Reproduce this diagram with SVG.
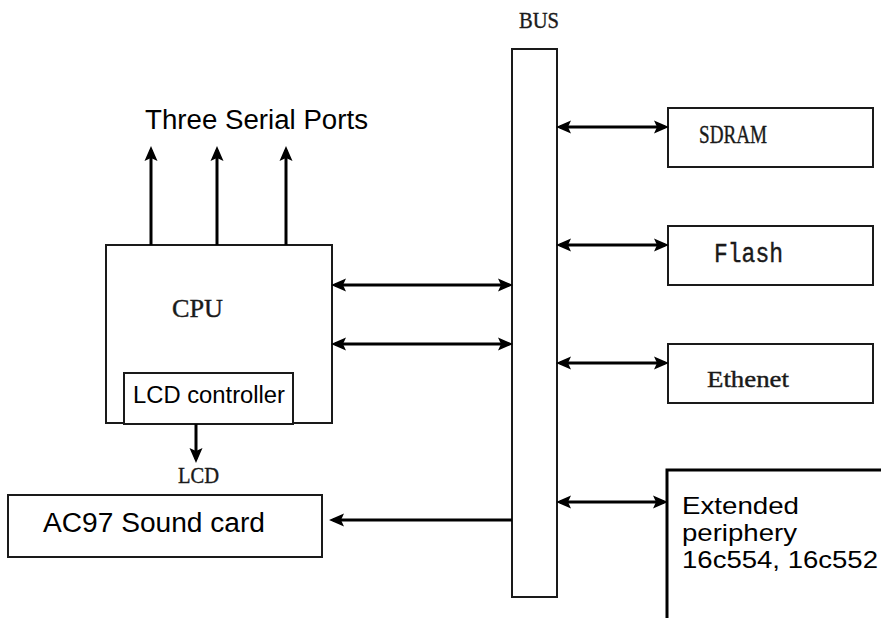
<svg xmlns="http://www.w3.org/2000/svg" width="881" height="618" viewBox="0 0 881 618">
  <style>
    .box { fill: #ffffff; stroke: #1a1a1a; stroke-width: 2; }
    .wire { stroke: #000000; stroke-width: 3; fill: none; }
    .sans { font-family: "Liberation Sans", Arial, sans-serif; fill: #000000; }
    .serif { font-family: "Liberation Serif", "Times New Roman", serif; fill: #1a1a1a; stroke: #1a1a1a; stroke-width: 0.4; }
    .mono { font-family: "Liberation Mono", "Courier New", monospace; fill: #1a1a1a; stroke: #1a1a1a; stroke-width: 0.4; }
  </style>
  <defs>
    <marker id="head" markerUnits="userSpaceOnUse" markerWidth="15" markerHeight="14" refX="11" refY="7" orient="auto-start-reverse" viewBox="0 0 15 14">
      <path d="M0,0.5 L15,7 L0,13.5 L3,7 Z" fill="#000000"/>
    </marker>
  </defs>

  <rect width="881" height="618" fill="#ffffff"/>

  <!-- system bus -->
  <g id="bus">
    <rect class="box" x="512" y="49" width="45" height="548"/>
    <text class="serif" x="519" y="28" font-size="24" textLength="40" lengthAdjust="spacingAndGlyphs">BUS</text>
  </g>

  <!-- processor with embedded LCD controller -->
  <g id="cpu">
    <rect class="box" x="106" y="245" width="226" height="178"/>
    <text class="serif" x="172" y="317" font-size="26" textLength="51" lengthAdjust="spacingAndGlyphs">CPU</text>
  </g>
  <g id="lcd-controller">
    <rect class="box" x="124" y="373" width="169" height="51"/>
    <text class="sans" x="133" y="403" font-size="23.5" textLength="152" lengthAdjust="spacingAndGlyphs">LCD controller</text>
  </g>

  <g id="serial-ports">
    <text class="sans" x="145" y="129" font-size="27" textLength="223" lengthAdjust="spacingAndGlyphs">Three Serial Ports</text>
  </g>

  <g id="lcd">
    <text class="serif" x="178" y="483" font-size="23" textLength="41" lengthAdjust="spacingAndGlyphs">LCD</text>
  </g>

  <g id="sound-card">
    <rect class="box" x="8" y="495" width="314" height="62"/>
    <text class="sans" x="43" y="532" font-size="27" textLength="222" lengthAdjust="spacingAndGlyphs">AC97 Sound card</text>
  </g>

  <g id="sdram">
    <rect class="box" x="668" y="108" width="205" height="59"/>
    <text class="serif" x="699" y="143" font-size="26" textLength="68" lengthAdjust="spacingAndGlyphs">SDRAM</text>
  </g>

  <g id="flash">
    <rect class="box" x="668" y="226" width="205" height="59"/>
    <text class="mono" x="714" y="262" font-size="27" textLength="69" lengthAdjust="spacingAndGlyphs">Flash</text>
  </g>

  <g id="ethernet">
    <rect class="box" x="668" y="344" width="205" height="59"/>
    <text class="serif" x="707" y="387" font-size="23" textLength="82" lengthAdjust="spacingAndGlyphs">Ethenet</text>
  </g>

  <g id="extended-periphery">
    <path d="M667,618 V470 H881" fill="none" stroke="#000000" stroke-width="3"/>
    <text class="sans" font-size="24.5">
      <tspan x="682" y="514" textLength="117" lengthAdjust="spacingAndGlyphs">Extended</tspan>
      <tspan x="682" y="541" textLength="115" lengthAdjust="spacingAndGlyphs">periphery</tspan>
      <tspan x="682" y="568" textLength="196" lengthAdjust="spacingAndGlyphs">16c554, 16c552</tspan>
    </text>
  </g>

  <!-- connectors -->
  <g id="connectors">
    <!-- serial port outputs -->
    <line class="wire" x1="151" y1="245" x2="151" y2="150" marker-end="url(#head)"/>
    <line class="wire" x1="217" y1="245" x2="217" y2="150" marker-end="url(#head)"/>
    <line class="wire" x1="286" y1="245" x2="286" y2="150" marker-end="url(#head)"/>
    <!-- CPU to bus, two ports -->
    <line class="wire" x1="335" y1="285" x2="509" y2="285" marker-start="url(#head)" marker-end="url(#head)"/>
    <line class="wire" x1="335" y1="344" x2="509" y2="344" marker-start="url(#head)" marker-end="url(#head)"/>
    <!-- LCD output -->
    <line class="wire" x1="196" y1="424" x2="196" y2="459" marker-end="url(#head)"/>
    <!-- bus to sound card -->
    <line class="wire" x1="512" y1="520" x2="333" y2="520" marker-end="url(#head)"/>
    <!-- bus to peripherals -->
    <line class="wire" x1="560" y1="127" x2="665" y2="127" marker-start="url(#head)" marker-end="url(#head)"/>
    <line class="wire" x1="560" y1="245" x2="665" y2="245" marker-start="url(#head)" marker-end="url(#head)"/>
    <line class="wire" x1="560" y1="363" x2="665" y2="363" marker-start="url(#head)" marker-end="url(#head)"/>
    <line class="wire" x1="560" y1="502" x2="664" y2="502" marker-start="url(#head)" marker-end="url(#head)"/>
  </g>
</svg>
